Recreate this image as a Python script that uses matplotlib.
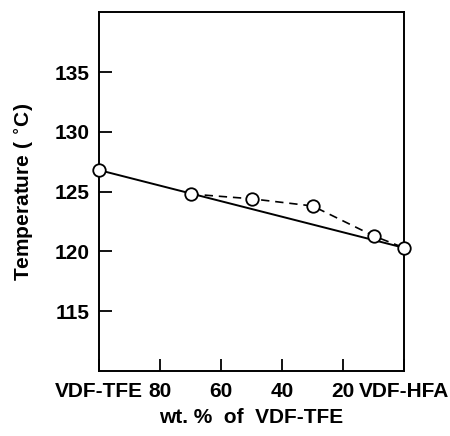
import numpy as np
import matplotlib.pyplot as plt

plt.rcParams["font.family"] = ["Liberation Sans", "DejaVu Sans"]
plt.rcParams["font.weight"] = "bold"

# data
wt_solid = [100, 0]
temp_solid = [126.8, 120.3]

wt_points = [100, 70, 50, 30, 10, 0]
temp_points = [126.8, 124.8, 124.4, 123.8, 121.3, 120.3]

wt_dashed = [70, 50, 30, 10, 0]
temp_dashed = [124.8, 124.4, 123.8, 121.3, 120.3]

x_ticks = [100, 80, 60, 40, 20, 0]
x_labels = ["VDF-TFE", "80", "60", "40", "20", "VDF-HFA"]
y_ticks = [115, 120, 125, 130, 135]

fig = plt.figure(figsize=(4.5, 4.36), dpi=100)
ax = fig.add_axes([0.22, 0.149, 0.678, 0.823])

ax.plot(wt_solid, temp_solid, color="black", lw=1.4, zorder=2)
ax.plot(wt_dashed, temp_dashed, color="black", lw=1.2, ls=(0, (5, 3.5)), zorder=2)
ax.plot(wt_points, temp_points, ls="none", marker="o", ms=9, mfc="white",
        mec="black", mew=1.3, zorder=3, clip_on=False)

ax.set_xlim(100, 0)
ax.set_ylim(110, 140)
ax.set_xticks(x_ticks, labels=x_labels)
ax.set_yticks(y_ticks)
ax.tick_params(direction="in", length=9, width=1.3, labelsize=15, pad=7)
ax.tick_params(axis="x", pad=8)

for s in ax.spines.values():
    s.set_linewidth(1.4)

ax.set_xlabel("wt. %  of  VDF-TFE", fontsize=15, fontweight="bold", labelpad=5)
ax.set_ylabel("Temperature ( $^{\\circ}$C)", fontsize=15, fontweight="bold", labelpad=13)

plt.savefig("out.png", dpi=100)
plt.close(fig)
